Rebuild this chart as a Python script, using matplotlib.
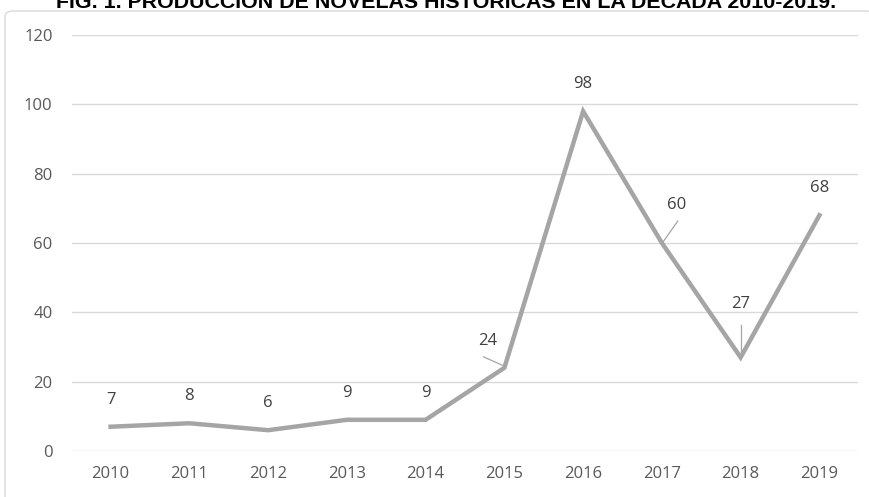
import matplotlib.pyplot as plt
from matplotlib.patches import FancyBboxPatch

years = ['2010', '2011', '2012', '2013', '2014', '2015', '2016', '2017', '2018', '2019']
novelas = [7, 8, 6, 9, 9, 24, 98, 60, 27, 68]
titulo = 'FIG. 1. PRODUCCIÓN DE NOVELAS HISTÓRICAS EN LA DÉCADA 2010-2019.'

# label offsets in pixels (x, y up); default is straight above
label_off = {5: (-17, 27), 7: (15, 38), 8: (0, 53)}
# leader lines: (start, end) offsets in pixels
leaders = {5: ((-21, 13), (-2, 3)), 7: ((16, 26), (1, 1)), 8: ((0, 39), (0, 5))}

plt.rcParams['font.family'] = ['Open Sans', 'DejaVu Sans']
fig = plt.figure(figsize=(8.69, 4.97), dpi=100)

# outer chart frame
frame = FancyBboxPatch((5 / 869, -0.02), 1.0, (497 - 11) / 497 + 0.02,
                       boxstyle='round,pad=0,rounding_size=0.01',
                       transform=fig.transFigure, fc='white', ec='#d9d9d9', lw=1.0,
                       zorder=-5)
fig.patches.append(frame)

fig.text(446 / 869, 1 - 8 / 497, titulo, ha='center', va='baseline', fontsize=15.4,
         fontweight='bold', family='Liberation Sans', color='#000000')

ax = fig.add_axes([72 / 869, (497 - 451) / 497, (858 - 72) / 869, (451 - 35) / 497])
ax.patch.set_alpha(0)
x = list(range(len(years)))
ax.plot(x, novelas, color='#a5a5a5', lw=3.2, solid_joinstyle='miter', zorder=3)

for i, v in enumerate(novelas):
    dx, dy = label_off.get(i, (0, 27))
    ax.annotate(str(v), xy=(i, v), xytext=(dx, dy), textcoords='offset pixels',
                ha='center', va='center', fontsize=12, color='#404040')

fig.canvas.draw()
inv = ax.transData.inverted()
for i, ((sx, sy), (ex, ey)) in leaders.items():
    p = ax.transData.transform((i, novelas[i]))
    a = inv.transform((p[0] + sx, p[1] + sy))
    b = inv.transform((p[0] + ex, p[1] + ey))
    ax.plot([a[0], b[0]], [a[1], b[1]], color='#a5a5a5', lw=0.9, zorder=2)

ax.set_xlim(-0.49, 9.49)
ax.set_ylim(0, 120)
ax.set_yticks(range(0, 121, 20))
ax.set_xticks(x)
ax.set_xticklabels(years)
ax.grid(axis='y', color='#d9d9d9', lw=1.0)
ax.set_axisbelow(True)
for s in ax.spines.values():
    s.set_visible(False)
ax.tick_params(length=0, labelsize=12, labelcolor='#595959')
ax.tick_params(axis='x', pad=11)
ax.tick_params(axis='y', pad=14)

fig.savefig('out.png', dpi=100)
